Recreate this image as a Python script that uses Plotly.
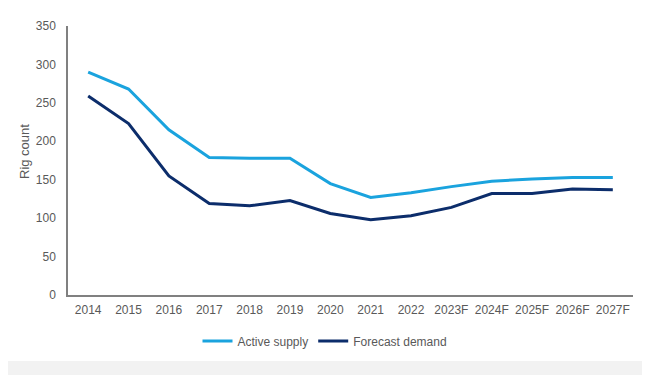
import plotly.graph_objects as go

years = ["2014", "2015", "2016", "2017", "2018", "2019", "2020", "2021", "2022",
         "2023F", "2024F", "2025F", "2026F", "2027F"]
active_supply = [290, 268, 215, 179, 178, 178, 145, 127, 133, 141, 148, 151, 153, 153]
forecast_demand = [259, 223, 155, 119, 116, 123, 106, 98, 103, 114, 132, 132, 138, 137]
y_ticks = [0, 50, 100, 150, 200, 250, 300, 350]

font_family = "Liberation Sans, Arial, sans-serif"
text_color = "#595959"

fig = go.Figure()
fig.add_trace(go.Scatter(x=years, y=active_supply, mode="lines", name="Active supply",
                         line=dict(color="#1aa3de", width=3)))
fig.add_trace(go.Scatter(x=years, y=forecast_demand, mode="lines", name="Forecast demand",
                         line=dict(color="#0c2d6b", width=3)))

# the page places the figure 8px in from the top-left corner
OFF = 8
W, H = 650 - OFF, 375 - OFF
L, R, T, B = 68 - OFF, 17, 26 - OFF, 80
pw, ph = W - L - R, H - T - B

def px_x(p):  # page pixel -> paper x
    return (p - OFF - L) / pw

def px_y(p):  # page pixel -> paper y
    return (H - B - (p - OFF)) / ph

fig.update_layout(
    width=W, height=H,
    margin=dict(l=L, r=R, t=T, b=B),
    paper_bgcolor="white", plot_bgcolor="white",
    font=dict(family=font_family, size=12, color=text_color),
    showlegend=True,
    legend=dict(orientation="h", x=px_x(325), xanchor="center", y=px_y(341), yanchor="middle",
                font=dict(size=12, color=text_color), itemwidth=30, traceorder="normal"),
    xaxis=dict(type="category", range=[-0.5, len(years) - 0.5], showgrid=False,
               showline=True, linecolor="#808080", linewidth=1.5, ticks="",
               ticklabelstandoff=3, tickfont=dict(size=12, color=text_color)),
    yaxis=dict(range=[0, 350], tickvals=y_ticks, showgrid=False, zeroline=False,
               showline=True, linecolor="#808080", linewidth=1.5, ticks="",
               ticklabelstandoff=8, tickfont=dict(size=12, color=text_color)),
    annotations=[
        dict(text="Rig count", xref="paper", yref="paper", x=px_x(24), y=px_y(152),
             xanchor="center", yanchor="middle", textangle=-90, showarrow=False,
             font=dict(size=13, color=text_color)),
    ],
    shapes=[
        dict(type="rect", xref="paper", yref="paper", x0=px_x(OFF), x1=px_x(650),
             y0=px_y(375), y1=px_y(361), fillcolor="#f2f2f2", line=dict(width=0), layer="below"),
    ],
)

fig.write_html("out.html")
